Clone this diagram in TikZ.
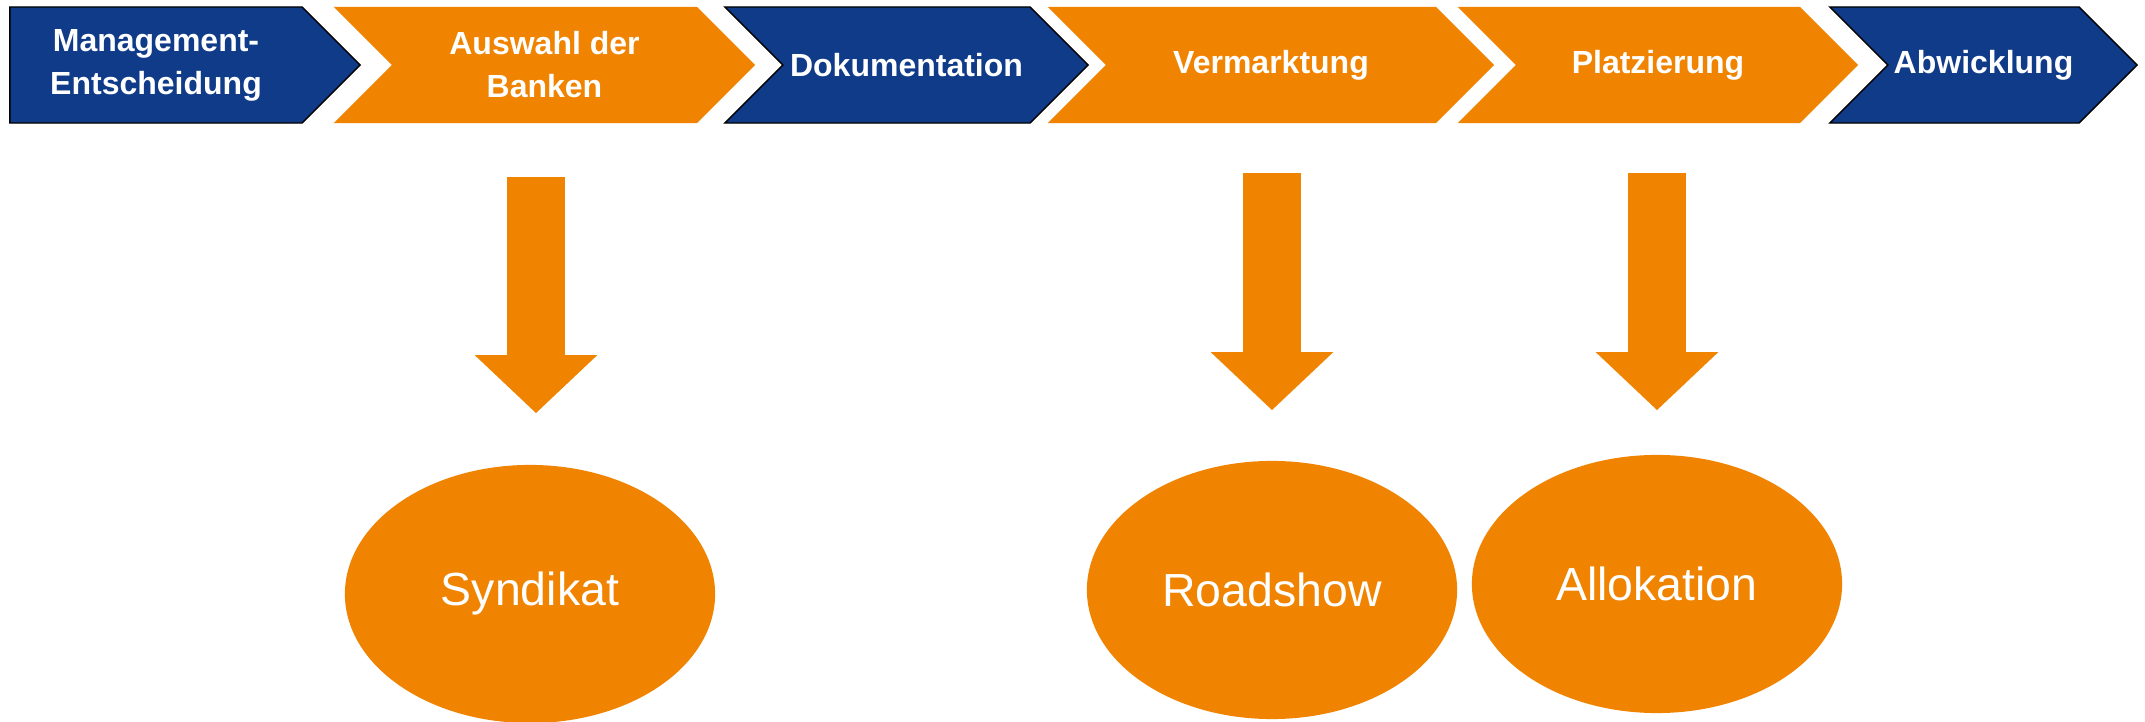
\documentclass[tikz,border=0pt]{standalone}
\usepackage{fontspec}
\setmainfont{Liberation Sans}
\usetikzlibrary{positioning,shapes.symbols,shapes.geometric,arrows.meta}
\definecolor{ipoblue}{RGB}{16,59,137}
\definecolor{ipoorange}{RGB}{240,131,0}

\begin{document}
\begin{tikzpicture}[
    x=0.01cm, y=-0.01cm,
    phase/.style={
        signal, signal to=east, signal from=west, signal pointer angle=90,
        minimum height=11.6mm, inner sep=0pt, text=white, align=center,
        font=\bfseries\fontsize{9.1}{12.2}\selectfont
    },
    bluephase/.style={
        phase, fill=ipoblue, draw=black, thin
    },
    orangephase/.style={
        phase, fill=ipoorange
    },
    result/.style={
        ellipse, fill=ipoorange, text=white, inner sep=0pt,
        minimum width=37mm, minimum height=25.8mm,
        font=\fontsize{13.2}{16}\selectfont
    },
    fatarrow/.style={
        draw=ipoorange, line width=5.8mm,
        -{Triangle[length=5.8mm, width=11.9mm]}
    }
]
    \useasboundingbox (0,0) rectangle (2145,722);

    \node (mgmt) [bluephase, signal from=nowhere, minimum width=35mm] at (156,65) {Management-\\Entscheidung};
    \node (banken) [orangephase, minimum width=42.1mm] at (544.5,65) {Auswahl der\\Banken};
    \node (doku) [bluephase, minimum width=36.3mm] at (906.5,65) {Dokumentation};
    \node (verm) [orangephase, minimum width=44.6mm] at (1271,65) {Vermarktung};
    \node (platz) [orangephase, minimum width=40mm] at (1658,65) {Platzierung};
    \node (abw) [bluephase, minimum width=30.7mm] at (1983.5,65) {Abwicklung};

    \node (syn) [result] at (530,594) {Syndikat};
    \node (road) [result] at (1272,590) {Roadshow};
    \node (allo) [result] at (1657,584) {Allokation};

    \draw [fatarrow, shorten <=5.3mm, shorten >=5.1mm] ([xshift=0.6mm]syn.north |- banken.south) -- ([xshift=0.6mm]syn.north);
    \draw [fatarrow, shorten <=4.9mm, shorten >=5mm] (road.north |- verm.south) -- (road.north);
    \draw [fatarrow, shorten <=4.9mm, shorten >=4.4mm] (allo.north |- platz.south) -- (allo.north);
\end{tikzpicture}
\end{document}
